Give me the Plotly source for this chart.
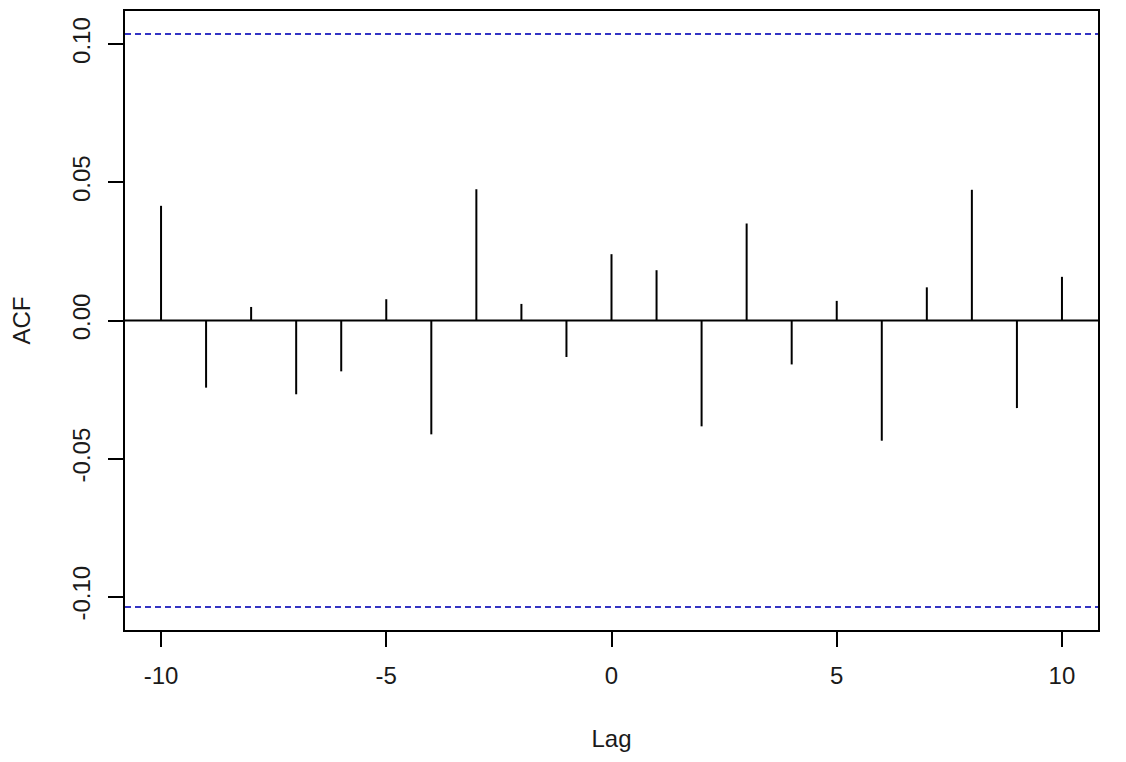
import plotly.graph_objects as go

# cross-correlation values
lags = [-10, -9, -8, -7, -6, -5, -4, -3, -2, -1, 0, 1, 2, 3, 4, 5, 6, 7, 8, 9, 10]
acf = [0.0415, -0.0243, 0.0049, -0.0267, -0.0184, 0.0077, -0.0412, 0.0475, 0.0060, -0.0132,
       0.0240, 0.0182, -0.0383, 0.0351, -0.0159, 0.0071, -0.0435, 0.0120, 0.0473, -0.0317, 0.0158]
conf_limit = 0.1037

x_ticks = [-10, -5, 0, 5, 10]
x_tick_labels = ["-10", "-5", "0", "5", "10"]
y_ticks = [-0.10, -0.05, 0.00, 0.05, 0.10]
y_tick_labels = ["-0.10", "-0.05", "0.00", "0.05", "0.10"]

# spikes: one segment from 0 to the value at each lag
spike_x, spike_y = [], []
for lag, val in zip(lags, acf):
    spike_x += [lag, lag, None]
    spike_y += [0, val, None]

font = dict(family="Liberation Sans, Arial, sans-serif", size=24, color="#1a1a1a")
ci_color = "#3434c4"

fig = go.Figure(go.Scatter(x=spike_x, y=spike_y, mode="lines",
                           line=dict(color="black", width=2), hoverinfo="skip", showlegend=False))

fig.add_hline(y=0, line_color="black", line_width=2)
fig.add_hline(y=conf_limit, line_color=ci_color, line_width=2, line_dash="6px,4px")
fig.add_hline(y=-conf_limit, line_color=ci_color, line_width=2, line_dash="6px,4px")

fig.update_xaxes(range=[-10.8, 10.8], tickvals=x_ticks, ticktext=x_tick_labels, ticks="outside",
                 ticklen=15, tickwidth=2, tickcolor="black", showgrid=False, zeroline=False,
                 showline=True, mirror=True, linecolor="black", linewidth=2, tickfont=font,
                 ticklabelstandoff=8, automargin=False,
                 title=dict(text="Lag", font=font, standoff=42))
fig.update_yaxes(range=[-0.112, 0.112], tickvals=y_ticks, ticktext=y_tick_labels, tickangle=-90,
                 ticks="outside", ticklen=15, tickwidth=2, tickcolor="black", showgrid=False,
                 zeroline=False, showline=True, mirror=True, linecolor="black", linewidth=2,
                 tickfont=font, ticklabelstandoff=8, automargin=False,
                 title=dict(text="ACF", font=font, standoff=34))

# page body has an 8px margin, so the figure is drawn 8px smaller and shifted
fig.update_layout(width=1118, height=754, margin=dict(l=117, r=28, t=3, b=132),
                  plot_bgcolor="white", paper_bgcolor="white", font=font)

fig.write_html("out.html")
